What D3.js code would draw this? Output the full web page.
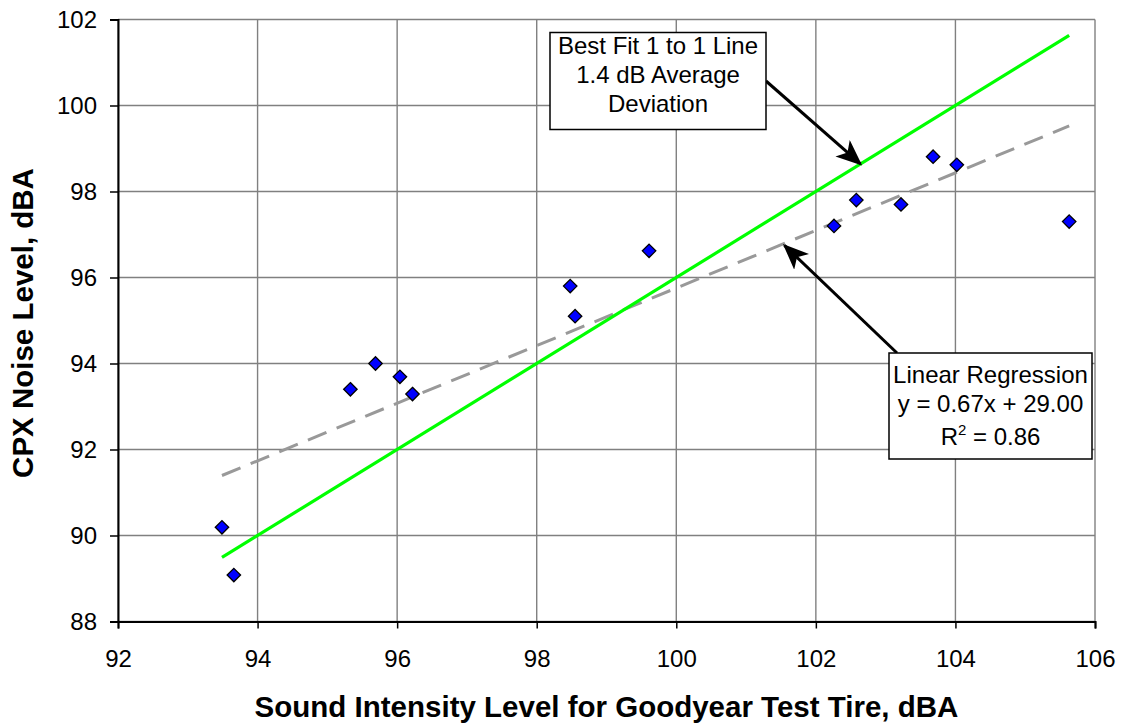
<!DOCTYPE html>
<html>
<head>
<meta charset="utf-8">
<script src="https://cdn.jsdelivr.net/npm/d3@7"></script>
<style>
  body { margin: 0; background: #fff; }
  text { font-family: "Liberation Sans", Arial, sans-serif; }
</style>
</head>
<body>
<script>
var w = 1121;
var h = 728;

// measured tire data
var sil = [93.49, 93.66, 95.33, 95.69, 96.04, 96.22, 98.48, 98.55, 99.61, 102.26, 102.58, 103.22, 103.68, 104.02, 105.63];
var cpx = [90.19, 89.08, 93.40, 94.00, 93.69, 93.29, 95.80, 95.10, 96.62, 97.20, 97.80, 97.70, 98.81, 98.62, 97.30];

var xTicks = [92, 94, 96, 98, 100, 102, 104, 106];
var yTicks = [88, 90, 92, 94, 96, 98, 100, 102];

var fitOffset = -4; // best fit 1 to 1 line: y = x - 4

var box1Lines = ["Best Fit 1 to 1 Line", "1.4 dB Average", "Deviation"];
var box2Lines = ["Linear Regression", "y = 0.67x + 29.00", "R2 = 0.86"];

var svg = d3.select("body").append("svg")
  .attr("width", w)
  .attr("height", h);

var x = d3.scaleLinear().domain([92, 106]).range([118, 1095]);
var y = d3.scaleLinear().domain([88, 102]).range([621.5, 19.5]);

// grid
var g = svg.append("g");
g.selectAll(".vg").data(xTicks).enter().append("line")
  .attr("x1", function (d) { return x(d) }).attr("x2", function (d) { return x(d) })
  .attr("y1", y(88)).attr("y2", y(102))
  .attr("stroke", "#808080").attr("stroke-width", 1.4);
g.selectAll(".hg").data(yTicks).enter().append("line")
  .attr("y1", function (d) { return y(d) }).attr("y2", function (d) { return y(d) })
  .attr("x1", x(92)).attr("x2", x(106))
  .attr("stroke", "#808080").attr("stroke-width", 1.4);

// axes
var xAxis = d3.axisBottom(x).tickValues(xTicks).tickSize(7).tickPadding(21);
var yAxis = d3.axisLeft(y).tickValues(yTicks).tickSize(8).tickPadding(13);

var gx = svg.append("g").attr("transform", "translate(0," + y(88) + ")").call(xAxis);
var gy = svg.append("g").attr("transform", "translate(" + x(92) + ",0)").call(yAxis);
[gx, gy].forEach(function (a) {
  a.select(".domain").attr("stroke", "#000").attr("stroke-width", 2);
  a.selectAll(".tick line").attr("stroke", "#000").attr("stroke-width", 1.5);
  a.selectAll(".tick text").attr("font-size", 24).attr("fill", "#000")
    .attr("font-family", "Liberation Sans, Arial, sans-serif");
});
gy.selectAll(".tick text").attr("dy", "0.35em");

// regression line from the data (least squares)
var mx = d3.mean(sil), my = d3.mean(cpx);
var sxy = d3.sum(sil, function (v, i) { return (v - mx) * (cpx[i] - my) });
var sxx = d3.sum(sil, function (v) { return (v - mx) * (v - mx) });
var slope = sxy / sxx;
var icpt = my - slope * mx;
var xMin = d3.min(sil), xMax = d3.max(sil);

svg.append("line")
  .attr("x1", x(xMin)).attr("y1", y(slope * xMin + icpt))
  .attr("x2", x(xMax)).attr("y2", y(slope * xMax + icpt))
  .attr("stroke", "#999999").attr("stroke-width", 3)
  .attr("stroke-dasharray", "20,11");

// best fit 1 to 1 line
svg.append("line")
  .attr("x1", x(xMin)).attr("y1", y(xMin + fitOffset))
  .attr("x2", x(xMax)).attr("y2", y(xMax + fitOffset))
  .attr("stroke", "#00ff00").attr("stroke-width", 3.2);

// points
var pts = sil.map(function (v, i) { return [v, cpx[i]] });
svg.selectAll(".pt").data(pts).enter().append("path")
  .attr("d", d3.symbol().type(d3.symbolDiamond2).size(115))
  .attr("transform", function (d) { return "translate(" + x(d[0]) + "," + y(d[1]) + ")" })
  .attr("fill", "#0000ff").attr("stroke", "#000").attr("stroke-width", 1.3);

// arrows
var defs = svg.append("defs");
defs.append("marker").attr("id", "ah")
  .attr("viewBox", "0 0 12 10").attr("refX", 11).attr("refY", 5)
  .attr("markerWidth", 26).attr("markerHeight", 22).attr("orient", "auto")
  .attr("markerUnits", "userSpaceOnUse")
  .append("path").attr("d", "M0,0 L12,5 L0,10 L3,5 Z").attr("fill", "#000");

svg.append("line")
  .attr("x1", 766).attr("y1", 81)
  .attr("x2", x(102.64)).attr("y2", y(102.64 + fitOffset))
  .attr("stroke", "#000").attr("stroke-width", 3).attr("marker-end", "url(#ah)");

svg.append("line")
  .attr("x1", 897).attr("y1", 353)
  .attr("x2", x(101.55)).attr("y2", y(slope * 101.55 + icpt) + 2)
  .attr("stroke", "#000").attr("stroke-width", 3).attr("marker-end", "url(#ah)");

// text boxes
function textBox(x0, y0, bw, bh, lines, offs) {
  var b = svg.append("g");
  b.append("rect").attr("x", x0).attr("y", y0).attr("width", bw).attr("height", bh)
    .attr("fill", "#fff").attr("stroke", "#000").attr("stroke-width", 1.5);
  lines.forEach(function (t, i) {
    var tx = b.append("text").attr("x", x0 + bw / 2).attr("y", y0 + offs[i])
      .attr("text-anchor", "middle").attr("font-size", 24).attr("fill", "#000");
    if (t.indexOf("R2") === 0) {
      tx.append("tspan").text("R");
      tx.append("tspan").attr("dy", -10).attr("font-size", 15).text("2");
      tx.append("tspan").attr("dy", 10).text(t.slice(2));
    } else {
      tx.text(t);
    }
  });
}
textBox(550, 32.5, 216, 97, box1Lines, [21.5, 50.5, 79.5]);
textBox(889, 353, 203, 106, box2Lines, [29.5, 58.5, 91.5]);

// axis titles
svg.append("text").attr("x", x(99)).attr("y", 717)
  .attr("text-anchor", "middle").attr("font-size", 29.5).attr("font-weight", "bold")
  .text("Sound Intensity Level for Goodyear Test Tire, dBA");
svg.append("text").attr("transform", "translate(33," + 323 + ") rotate(-90)")
  .attr("text-anchor", "middle").attr("font-size", 29.5).attr("font-weight", "bold")
  .text("CPX Noise Level, dBA");
</script>
</body>
</html>
